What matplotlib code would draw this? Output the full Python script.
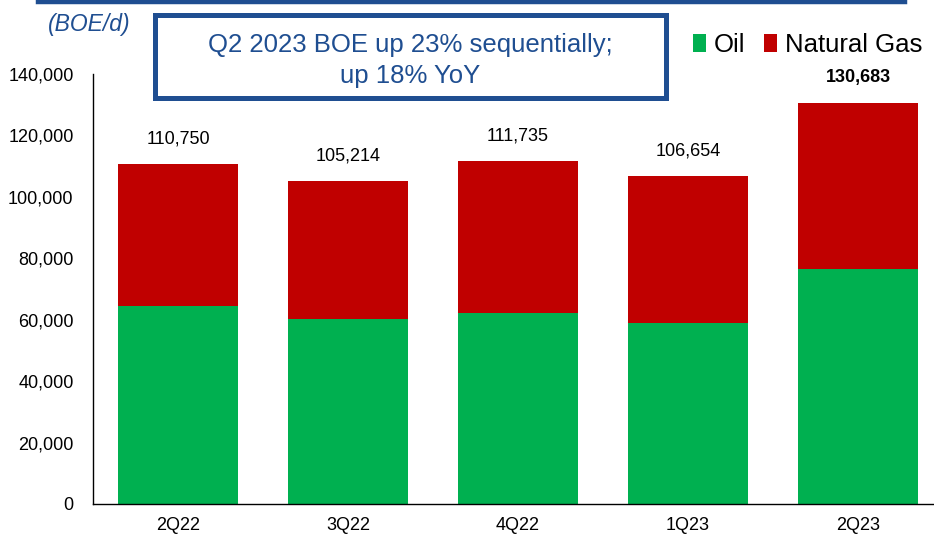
import matplotlib.pyplot as plt
from matplotlib.patches import Rectangle
from matplotlib.lines import Line2D

quarters = ["2Q22", "3Q22", "4Q22", "1Q23", "2Q23"]
totals = [110750, 105214, 111735, 106654, 130683]
oil = [64500, 60200, 62200, 58900, 76500]
gas = [t - o for t, o in zip(totals, oil)]
total_labels = ["110,750", "105,214", "111,735", "106,654", "130,683"]

green = "#00B050"
red = "#C00000"
blue = "#1F4E91"

plt.rcParams['font.family'] = ['Liberation Sans', 'DejaVu Sans']

W, H = 934, 535
fig = plt.figure(figsize=(W / 100, H / 100), dpi=100)
ax = fig.add_axes([93 / W, (H - 504) / H, 850 / W, 430 / H])

x = range(len(quarters))
ax.bar(x, oil, width=0.71, color=green, label="Oil")
ax.bar(x, gas, width=0.71, bottom=oil, color=red, label="Natural Gas")

for i, (t, lab) in enumerate(zip(totals, total_labels)):
    bold = i == len(totals) - 1
    ax.annotate(lab, (i, t), xytext=(0, 12), textcoords="offset points",
                ha="center", va="bottom", fontsize=13,
                fontweight="bold" if bold else "normal")

ax.set_xlim(-0.5, 4.5)
ax.set_ylim(0, 140000)
ax.set_yticks(range(0, 140001, 20000))
ax.set_yticklabels([f"{v:,}" for v in range(0, 140001, 20000)], fontsize=13)
ax.set_xticks(list(x))
ax.set_xticklabels(quarters, fontsize=13)
ax.tick_params(axis="both", length=0, pad=14)
ax.tick_params(axis="x", pad=9)
for s in ["top", "right"]:
    ax.spines[s].set_visible(False)
for s in ["left", "bottom"]:
    ax.spines[s].set_linewidth(1.0)
    ax.spines[s].set_color("black")

# top rule (cut-off title underline)
fig.add_artist(Line2D([38 / W, 905 / W], [1 - 2 / H, 1 - 2 / H], color=blue, lw=3.2,
                      transform=fig.transFigure))

# unit label
fig.text(48 / W, 1 - 24 / H, "(BOE/d)", color=blue, fontsize=16.5, style="italic",
         ha="left", va="center")

# callout box
fig.add_artist(Rectangle((154.5 / W, 1 - 97.5 / H), (665.5 - 154.5) / W, (97.5 - 14.5) / H,
                         fill=False, edgecolor=blue, lw=3.6, transform=fig.transFigure))
fig.text(410 / W, 1 - 45 / H, "Q2 2023 BOE up 23% sequentially;", color=blue,
         fontsize=18.5, ha="center", va="center")
fig.text(410 / W, 1 - 76 / H, "up 18% YoY", color=blue, fontsize=18.5,
         ha="center", va="center")

fig.legend(loc="center left", bbox_to_anchor=(693 / W, 1 - 45 / H), ncol=2,
           frameon=False, fontsize=18.5, handlelength=0.5, handleheight=0.75,
           handletextpad=0.3, columnspacing=0.75, borderaxespad=0, borderpad=0)

fig.savefig("out.png", dpi=100)
